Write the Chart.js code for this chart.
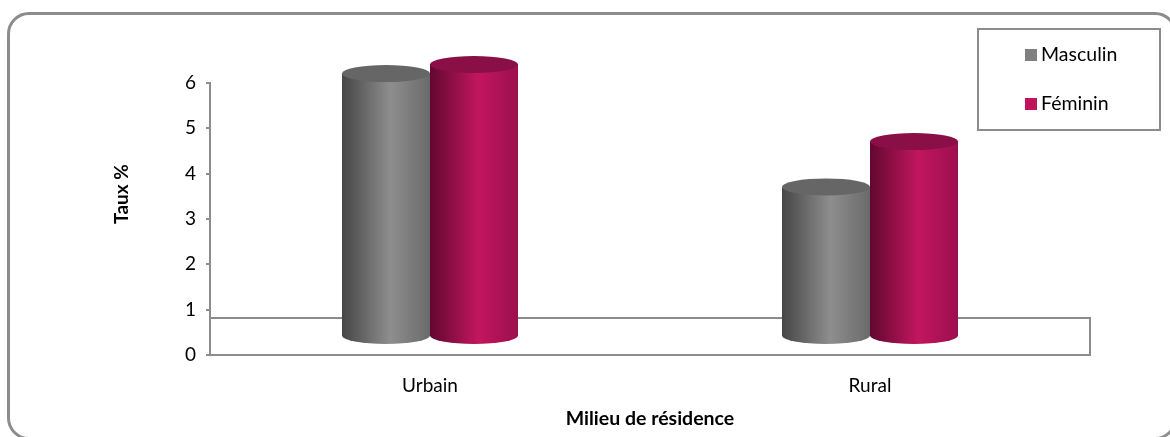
<!DOCTYPE html>
<html>
<head>
<meta charset="utf-8">
<script src="https://cdn.jsdelivr.net/npm/chart.js@4"></script>
<style>
  html, body { margin: 0; padding: 0; background: #fff; overflow: hidden; }
  .frame {
    position: absolute; left: 7px; top: 12px; width: 1170px; height: 428px;
    border: 3px solid #8c8c8c; border-radius: 22px; box-sizing: border-box;
  }
  #wrap { position: absolute; left: 0; top: 0; width: 1170px; height: 437px; }
</style>
</head>
<body>
<div class="frame"></div>
<div id="wrap"><canvas id="chart" width="1170" height="437"></canvas></div>
<script>
const categories = ["Urbain", "Rural"];
const seriesNames = ["Masculin", "Féminin"];
const masculin = [5.8, 3.3];
const feminin = [6.0, 4.3];
const yTicks = [0, 1, 2, 3, 4, 5, 6];
const yTitle = "Taux %";

// colours: [left shade, highlight, right shade, top]
const shades = [
  ["#464646", "#8e8e8e", "#6a6a6a", "#666666"],
  ["#620830", "#c2165f", "#9c0f4f", "#8a0f46"]
];

const FONT = "Lato, 'Open Sans', sans-serif";
const DEPTH = 37;

const cylinders = {
  id: "cylinders",
  beforeDatasetsDraw(chart) {
    const ctx = chart.ctx;
    const area = chart.chartArea;
    const y0 = chart.scales.y.getPixelForValue(0);

    // floor
    ctx.save();
    ctx.strokeStyle = "#8c8c8c";
    ctx.lineWidth = 2;
    ctx.beginPath();
    ctx.moveTo(area.left, y0 - DEPTH);
    ctx.lineTo(area.right, y0 - DEPTH);
    ctx.lineTo(area.right, y0);
    ctx.lineTo(area.left, y0);
    ctx.stroke();
    ctx.restore();

    chart.data.datasets.forEach((ds, di) => {
      const meta = chart.getDatasetMeta(di);
      const c = shades[di];
      meta.data.forEach((bar) => {
        const w = bar.width;
        const x = bar.x - w / 2;
        const rx = w / 2, ry = 8.5;
        const top = bar.y - DEPTH / 2;
        const base = bar.base - DEPTH / 2;
        const g = ctx.createLinearGradient(x, 0, x + w, 0);
        g.addColorStop(0, c[0]);
        g.addColorStop(0.55, c[1]);
        g.addColorStop(1, c[2]);
        ctx.save();
        ctx.fillStyle = g;
        ctx.beginPath();
        ctx.moveTo(x, top);
        ctx.lineTo(x, base);
        ctx.ellipse(bar.x, base, rx, ry, 0, Math.PI, 0, true);
        ctx.lineTo(x + w, top);
        ctx.closePath();
        ctx.fill();
        ctx.fillStyle = c[3];
        ctx.beginPath();
        ctx.ellipse(bar.x, top, rx, ry, 0, 0, Math.PI * 2);
        ctx.fill();
        ctx.restore();
      });
    });
    return false;
  },
  afterDraw(chart) {
    const ctx = chart.ctx;
    ctx.save();
    // legend box
    ctx.strokeStyle = "#8c8c8c";
    ctx.lineWidth = 2;
    ctx.strokeRect(978, 29, 182, 101);
    ctx.font = "19.5px " + FONT;
    ctx.textBaseline = "middle";
    chart.data.datasets.forEach((ds, i) => {
      const cy = 55 + i * 49;
      ctx.fillStyle = ds.backgroundColor;
      ctx.fillRect(1025, cy - 6, 12, 12);
      ctx.fillStyle = "#000";
      ctx.fillText(ds.label, 1041, cy);
    });
    // y axis title, sits a bit above the plot middle like the original
    ctx.translate(122, 194);
    ctx.rotate(-Math.PI / 2);
    ctx.font = "bold 19px " + FONT;
    ctx.textAlign = "center";
    ctx.textBaseline = "middle";
    ctx.fillText(yTitle, 0, 0);
    ctx.restore();
  }
};

new Chart(document.getElementById("chart"), {
  type: "bar",
  data: {
    labels: categories,
    datasets: [
      { label: seriesNames[0], data: masculin, backgroundColor: "#808080" },
      { label: seriesNames[1], data: feminin, backgroundColor: "#c0145e" }
    ]
  },
  options: {
    responsive: false,
    animation: false,
    events: [],
    layout: { padding: { left: 80, right: 80, top: 83, bottom: 0 } },
    datasets: { bar: { categoryPercentage: 0.4, barPercentage: 1 } },
    plugins: { legend: { display: false }, tooltip: { enabled: false } },
    scales: {
      x: {
        grid: { display: false, drawTicks: false },
        border: { display: false },
        ticks: { color: "#000", font: { family: FONT, size: 19 }, padding: 19 },
        title: {
          display: true, text: "Milieu de résidence", color: "#000",
          font: { family: FONT, size: 19.5, weight: "bold" }, padding: { top: 0, bottom: 7 }
        },
        afterFit(scale) { scale.height = 82; }
      },
      y: {
        min: 0, max: 6,
        afterBuildTicks(scale) { scale.ticks = yTicks.map(v => ({ value: v })); },
        grid: { drawOnChartArea: false, tickLength: 4, color: "#8c8c8c", lineWidth: 2 },
        border: { color: "#8c8c8c", width: 2 },
        ticks: { color: "#000", font: { family: FONT, size: 19 }, padding: 10 },
        afterFit(scale) { scale.width = 130; }
      }
    }
  },
  plugins: [cylinders]
});
</script>
</body>
</html>
